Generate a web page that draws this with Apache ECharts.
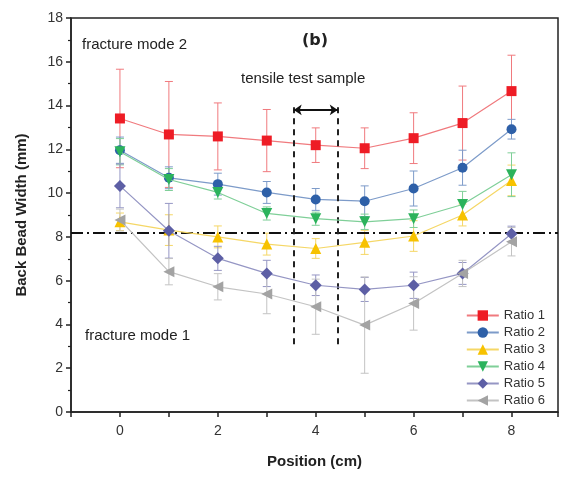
<!DOCTYPE html>
<html><head><meta charset="utf-8">
<script src="https://cdn.jsdelivr.net/npm/echarts@6/dist/echarts.min.js"></script>
<style>html,body{margin:0;padding:0;background:#fff}#c{width:561px;height:479px}</style>
</head><body><div id="c"></div>
<script>
const positions = [0,1,2,3,4,5,6,7,8];
const seriesNames = ['Ratio 1','Ratio 2','Ratio 3','Ratio 4','Ratio 5','Ratio 6'];
const ratio1 = [13.41,12.68,12.59,12.40,12.19,12.05,12.51,13.20,14.66];
const err1   = [2.25,2.42,1.53,1.42,0.79,0.93,1.16,1.69,1.64];
const ratio2 = [11.96,10.70,10.41,10.03,9.71,9.63,10.21,11.16,12.92];
const err2   = [0.60,0.50,0.50,0.50,0.50,0.70,0.80,0.80,0.45];
const ratio3 = [8.69,8.31,8.00,7.67,7.47,7.75,8.04,9.00,10.58];
const err3   = [0.40,0.70,0.50,0.50,0.45,0.55,0.70,0.50,0.70];
const ratio4 = [11.89,10.62,10.03,9.07,8.83,8.69,8.83,9.48,10.84];
const err4   = [0.60,0.50,0.30,0.30,0.30,0.35,0.40,0.60,1.00];
const ratio5 = [10.33,8.28,7.02,6.33,5.79,5.60,5.79,6.33,8.14];
const err5   = [1.00,1.25,0.55,0.60,0.47,0.55,0.60,0.50,0.35];
const ratio6 = [8.77,6.41,5.72,5.39,4.81,3.97,4.96,6.33,7.78];
const err6   = [0.50,0.60,0.60,0.90,1.26,2.20,1.22,0.60,0.65];
const xTicks = [0,2,4,6,8];
const thresholdY = 8.2;
const sampleX = [3.55, 4.45];
const sampleY = [3.1, 14.1];
const arrowY = 13.8;

const values = [ratio1,ratio2,ratio3,ratio4,ratio5,ratio6];
const errs = [err1,err2,err3,err4,err5,err6];
const colors = ['#ee1c25','#2e60a8','#f7c200','#2bb35c','#5d5fa5','#a3a3a3'];
const lineColors = ['#f07a7e','#7d9bc9','#f5d766','#7fcf98','#9596c4','#c3c3c3'];
const symbols = ['rect','circle','triangle','triangle','diamond','triangle'];
const rotates = [0,0,0,180,0,90];
const sizes = [10,10,11,11,12,11];

const series = [];
values.forEach((v,i)=>{
  series.push({
    type:'custom', name: seriesNames[i]+' err', silent:true, z:2,
    data: positions.map((x,j)=>[x, v[j]-errs[i][j], v[j]+errs[i][j]]),
    renderItem: (params, api) => {
      const lo = api.coord([api.value(0), api.value(1)]);
      const hi = api.coord([api.value(0), api.value(2)]);
      const w = 4;
      const st = {stroke: lineColors[i], lineWidth: 1};
      return {type:'group', children:[
        {type:'line', shape:{x1:lo[0],y1:lo[1],x2:hi[0],y2:hi[1]}, style:st},
        {type:'line', shape:{x1:lo[0]-w,y1:lo[1],x2:lo[0]+w,y2:lo[1]}, style:st},
        {type:'line', shape:{x1:hi[0]-w,y1:hi[1],x2:hi[0]+w,y2:hi[1]}, style:st}
      ]};
    }
  });
});
values.forEach((v,i)=>{
  series.push({
    type:'line', name: seriesNames[i], z:3+i,
    data: positions.map((x,j)=>[x,v[j]]),
    symbol: symbols[i], symbolSize: sizes[i], symbolRotate: rotates[i],
    showAllSymbol:true,
    lineStyle:{color: lineColors[i], width:1.2},
    itemStyle:{color: colors[i]},
    emphasis:{disabled:true}
  });
});
series.push({
  type:'line', name:'_marks', data:[], silent:true, z:10,
  markLine:{
    silent:true, symbol:'none', animation:false, label:{show:false},
    data:[
      [{coord:[-1,thresholdY], lineStyle:{color:'#111', width:2, type:[12,4,2,4]}},{coord:[8.95,thresholdY]}],
      [{coord:[sampleX[0],sampleY[0]], lineStyle:{color:'#222', width:2, type:[6,5]}},{coord:[sampleX[0],sampleY[1]]}],
      [{coord:[sampleX[1],sampleY[0]], lineStyle:{color:'#222', width:2, type:[6,5]}},{coord:[sampleX[1],sampleY[1]]}],
      [{coord:[sampleX[0],arrowY], symbol:'arrow', symbolSize:8, lineStyle:{color:'#111', width:2, type:'solid'}},{coord:[sampleX[1],arrowY], symbol:'arrow', symbolSize:8}]
    ]
  }
});

const chart = echarts.init(document.getElementById('c'));
chart.setOption({
  animation:false,
  grid:{left:71, top:18, width:488, height:394, show:true, borderColor:'#222', borderWidth:1.5},
  xAxis:{type:'value', min:-1, max:8.95, interval:1,
    axisLine:{onZero:false, lineStyle:{color:'#222', width:1.5}},
    axisTick:{length:5, lineStyle:{color:'#222', width:1.5}},
    axisLabel:{fontSize:14, color:'#333', margin:12, fontFamily:'Liberation Sans, Arial',
      formatter: v => xTicks.includes(v) ? String(v) : ''},
    splitLine:{show:false},
    name:'Position (cm)', nameLocation:'middle', nameGap:42,
    nameTextStyle:{fontSize:15, fontWeight:'bold', color:'#222', fontFamily:'Liberation Sans, Arial'}
  },
  yAxis:{type:'value', min:0, max:18, interval:2,
    axisLine:{show:true, onZero:false, lineStyle:{color:'#222', width:1.5}},
    axisTick:{show:true, length:5, lineStyle:{color:'#222', width:1.5}},
    minorTick:{show:true, splitNumber:2, length:3, lineStyle:{color:'#222', width:1.2}},
    axisLabel:{fontSize:14, color:'#333', margin:8, fontFamily:'Liberation Sans, Arial'},
    splitLine:{show:false},
    name:'Back Bead Width (mm)', nameLocation:'middle', nameGap:42,
    nameTextStyle:{fontSize:15, fontWeight:'bold', color:'#222', fontFamily:'Liberation Sans, Arial'}
  },
  legend:{
    data: seriesNames, orient:'vertical', right:11, top:304, itemGap:4,
    itemWidth:32, itemHeight:13,
    textStyle:{fontSize:13, color:'#333', fontFamily:'Liberation Sans, Arial'}
  },
  graphic:[
    {type:'text', left:82, top:37, style:{text:'fracture mode 2', fontSize:15, fill:'#222', fontFamily:'Liberation Sans, Arial'}},
    {type:'text', left:302, top:33, style:{text:'(b)', fontSize:16, fontWeight:'bold', fill:'#222', fontFamily:'DejaVu Sans'}},
    {type:'text', left:241, top:71, style:{text:'tensile test sample', fontSize:15, fill:'#222', fontFamily:'Liberation Sans, Arial'}},
    {type:'text', left:85, top:328, style:{text:'fracture mode 1', fontSize:15, fill:'#222', fontFamily:'Liberation Sans, Arial'}}
  ],
  series: series
});
</script>
</body></html>
